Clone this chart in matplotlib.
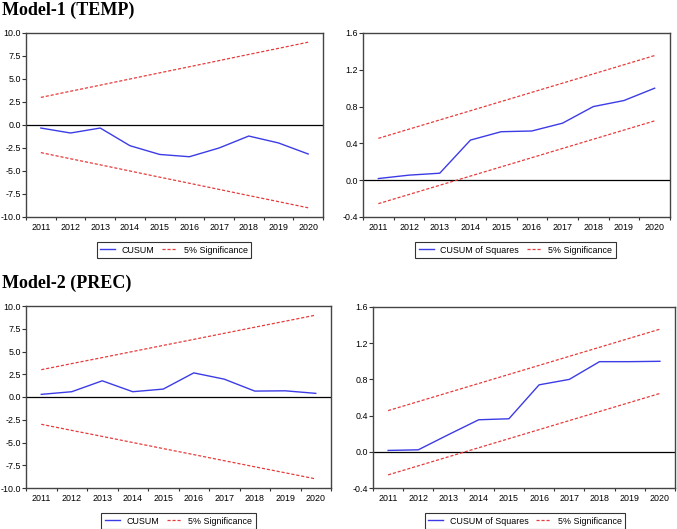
import matplotlib
matplotlib.use("Agg")
import matplotlib.pyplot as plt
import numpy as np

years = ["2011", "2012", "2013", "2014", "2015", "2016", "2017", "2018", "2019", "2020"]

m1_cusum = [-0.33, -0.87, -0.33, -2.25, -3.2, -3.45, -2.5, -1.2, -1.95, -3.15]
m2_cusum = [0.29, 0.58, 1.78, 0.58, 0.87, 2.65, 1.96, 0.65, 0.68, 0.4]
cusum_upper = [3.0, 3.67, 4.33, 5.0, 5.67, 6.33, 7.0, 7.67, 8.33, 9.0]
cusum_lower = [-3.0, -3.67, -4.33, -5.0, -5.67, -6.33, -7.0, -7.67, -8.33, -9.0]

m1_cusumsq = [0.018, 0.055, 0.076, 0.436, 0.527, 0.535, 0.62, 0.80, 0.866, 1.0]
m2_cusumsq = [0.015, 0.022, 0.19, 0.354, 0.365, 0.74, 0.80, 0.996, 0.996, 1.0]
sq_upper = [0.455, 0.555, 0.655, 0.755, 0.855, 0.955, 1.055, 1.155, 1.255, 1.355]
sq_lower = [-0.255, -0.155, -0.055, 0.045, 0.145, 0.245, 0.345, 0.445, 0.545, 0.645]

cusum_ticks = [-10.0, -7.5, -5.0, -2.5, 0.0, 2.5, 5.0, 7.5, 10.0]
sq_ticks = [-0.4, 0.0, 0.4, 0.8, 1.2, 1.6]

W, H = 677, 529
fig = plt.figure(figsize=(W / 100, H / 100), dpi=100)
plt.rcParams['font.family'] = ['Liberation Sans', 'DejaVu Sans']

BLUE = '#3c3ce6'
RED = '#e63c3c'
FS = 6.4


def px_axes(left, right, top, bottom):
    return fig.add_axes([left / W, 1 - bottom / H, (right - left) / W, (bottom - top) / H])


def panel(box, series, upper, lower, ylim, yticks, fmt, label, legbox):
    ax = px_axes(*box)
    x = np.arange(len(years))
    ax.axhline(0, color='black', lw=0.9, zorder=1)
    l1, = ax.plot(x, series, color=BLUE, lw=1.0, label=label, zorder=3)
    l2, = ax.plot(x, upper, color=RED, lw=0.9, ls=(0, (2.5, 1.5)), label='5% Significance', zorder=2)
    ax.plot(x, lower, color=RED, lw=0.9, ls=(0, (2.5, 1.5)), zorder=2)
    ax.set_xlim(-0.5, len(years) - 0.5)
    ax.set_ylim(*ylim)
    ax.set_xticks(np.arange(-0.5, len(years), 1.0))
    ax.set_xticklabels([])
    ax.set_xticks(x, minor=True)
    ax.set_xticklabels(years, minor=True, fontsize=FS)
    ax.tick_params(axis='x', which='major', length=2.4, width=0.8, direction='out', color='#333333')
    ax.tick_params(axis='x', which='minor', length=0, pad=4.2)
    ax.set_yticks(yticks)
    ax.set_yticklabels([fmt.format(v) for v in yticks], fontsize=FS)
    ax.tick_params(axis='y', length=2.9, width=0.8, direction='out', pad=0.7, color='#333333')
    for s in ax.spines.values():
        s.set_color('#444444')
        s.set_linewidth(1.0)
    cx, cy = legbox
    leg = ax.legend(handles=[l1, l2], loc='center', bbox_to_anchor=(cx / W, 1 - cy / H),
                    bbox_transform=fig.transFigure, ncol=2, fontsize=FS, frameon=True,
                    fancybox=False, edgecolor='black', handlelength=1.7, handletextpad=0.7,
                    columnspacing=0.9, borderpad=0.4, borderaxespad=0)
    leg.get_frame().set_linewidth(0.8)
    return ax


panel((26, 323, 33, 217), m1_cusum, cusum_upper, cusum_lower, (-10, 10), cusum_ticks, '{:.1f}',
      'CUSUM', (174, 250))
panel((363, 670, 33, 217), m1_cusumsq, sq_upper, sq_lower, (-0.4, 1.6), sq_ticks, '{:.1f}',
      'CUSUM of Squares', (515.5, 250))
panel((26, 331, 306, 488), m2_cusum, cusum_upper, cusum_lower, (-10, 10), cusum_ticks, '{:.1f}',
      'CUSUM', (178.5, 521))
panel((373, 675, 307, 488), m2_cusumsq, sq_upper, sq_lower, (-0.4, 1.6), sq_ticks, '{:.1f}',
      'CUSUM of Squares', (525, 521))

fig.text(2 / W, 1 - 10.5 / H, 'Model-1 (TEMP)', family=['Liberation Serif', 'DejaVu Serif'],
         fontweight='bold', fontsize=13.0, va='center', ha='left')
fig.text(2 / W, 1 - 283.5 / H, 'Model-2 (PREC)', family=['Liberation Serif', 'DejaVu Serif'],
         fontweight='bold', fontsize=13.0, va='center', ha='left')

fig.savefig('out.png', dpi=100)
